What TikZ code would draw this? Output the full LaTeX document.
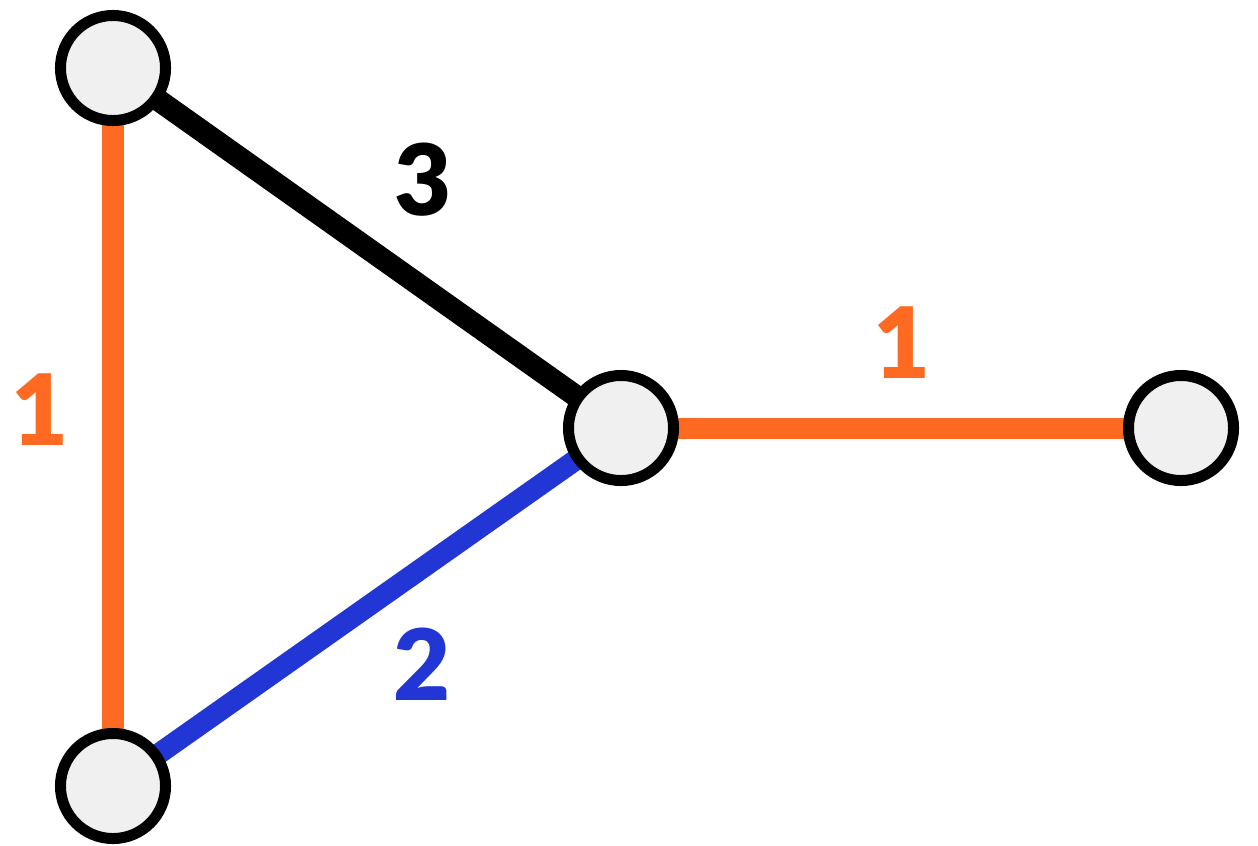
\documentclass[tikz,border=0pt]{standalone}
\usepackage{fontspec}
\setmainfont{Lato}[BoldFont={Lato Black}]
\definecolor{eorange}{HTML}{FF6A22}
\definecolor{eblue}{HTML}{2236D6}
\definecolor{nfill}{HTML}{F0F0F0}
\begin{document}
\begin{tikzpicture}[x=0.01cm,y=-0.01cm,
  vert/.style={circle,draw=black,fill=nfill,line width=0.11cm,minimum size=1.05cm,inner sep=0pt},
  edgeo/.style={draw=eorange,line width=0.21cm},
  edgeb/.style={draw=eblue,line width=0.21cm},
  edgek/.style={draw=black,line width=0.22cm},
  wlabel/.style={font=\fontsize{28}{32}\selectfont\bfseries,inner sep=0pt}]
\useasboundingbox (0,0) rectangle (1258,845);
\coordinate (pa) at (113,68);
\coordinate (pb) at (113,786);
\coordinate (pc) at (621,428);
\coordinate (pd) at (1181,428);
\draw[edgeo] (pa) -- (pb);
\draw[edgek] (pa) -- (pc);
\draw[edgeb] (pb) -- (pc);
\draw[edgeo] (pc) -- (pd);
\node[vert] (a) at (pa) {};
\node[vert] (b) at (pb) {};
\node[vert] (c) at (pc) {};
\node[vert] (d) at (pd) {};
\node[wlabel,text=black] (l3) at (423,180) {3};
\node[wlabel,text=eorange] (l1r) at (902,343) {1};
\node[wlabel,text=eorange] (l1l) at (40,410) {1};
\node[wlabel,text=eblue] (l2) at (422,664) {2};
\end{tikzpicture}
\end{document}
